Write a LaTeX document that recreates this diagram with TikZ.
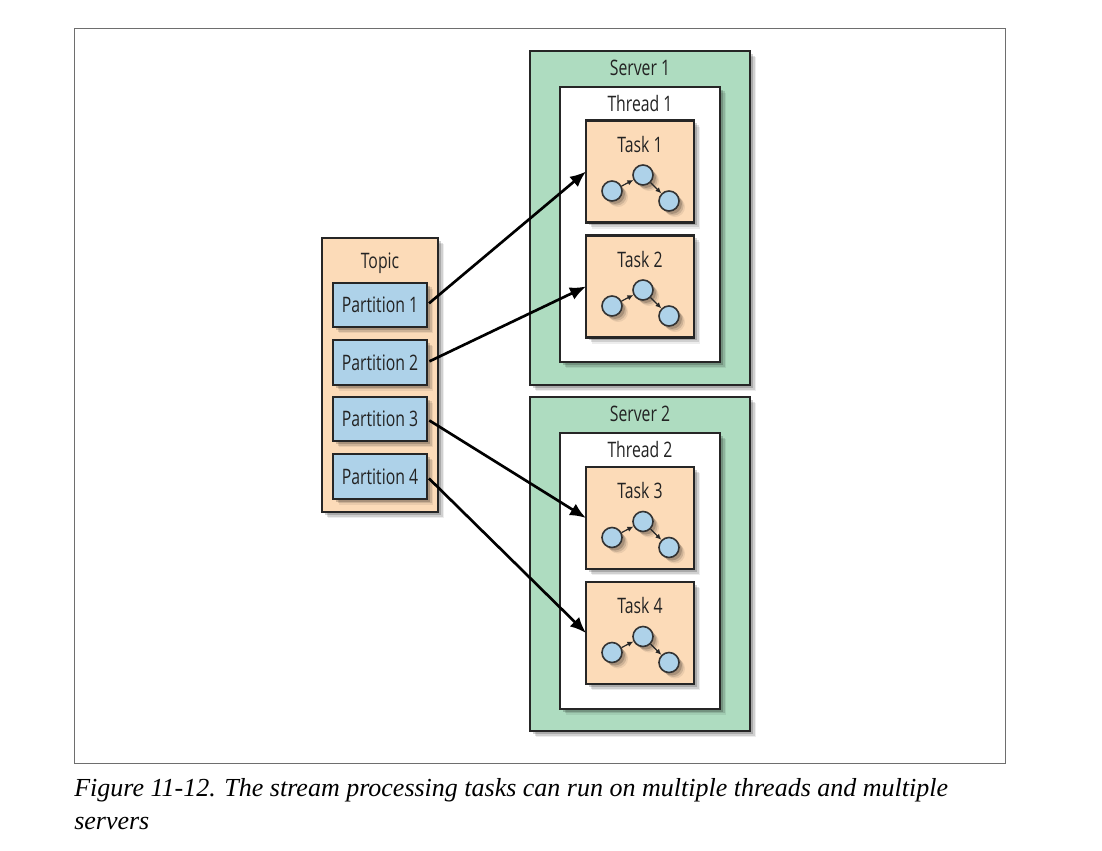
\documentclass[tikz,border=0pt]{standalone}
\usepackage{fontspec}
\setmainfont{Liberation Serif}
\newfontfamily\boxfont[FakeStretch=0.74]{Open Sans}
\usetikzlibrary{arrows.meta, positioning, calc, shadows}
\definecolor{servergreen}{RGB}{174,220,192}
\definecolor{taskorange}{RGB}{252,219,184}
\definecolor{partblue}{RGB}{174,210,233}
\definecolor{inkgray}{RGB}{35,35,35}
\definecolor{framegray}{RGB}{110,110,110}

\begin{document}
\begin{tikzpicture}[x=0.75pt, y=-0.75pt,
  softshadow/.style={general shadow={shadow xshift=4.5pt, shadow yshift=-4.5pt, fill=black, opacity=.07},
    general shadow={shadow xshift=3.4pt, shadow yshift=-3.4pt, fill=black, opacity=.12},
    general shadow={shadow xshift=2.2pt, shadow yshift=-2.2pt, fill=black, opacity=.18}},
  bx/.style={draw=black!85, line width=1.7pt, inner sep=0pt, outer sep=0pt, softshadow},
  server/.style={bx, fill=servergreen, minimum width=165pt, minimum height=250.5pt},
  thread/.style={bx, fill=white, minimum width=120pt, minimum height=206.5pt},
  task/.style={bx, fill=taskorange, minimum width=81pt, minimum height=76.5pt},
  topic/.style={bx, fill=taskorange, minimum width=87pt, minimum height=205.5pt},
  partition/.style={bx, fill=partblue, minimum width=70.5pt, minimum height=33.4pt, text=inkgray, font=\boxfont\fontsize{16}{18}\selectfont},
  lbl/.style={text=inkgray, inner sep=0pt, font=\boxfont\fontsize{16}{18}\selectfont},
  dot/.style={circle, draw=black!80, line width=1.2pt, fill=partblue, minimum size=15pt, inner sep=0pt, outer sep=.6pt, softshadow},
  link/.style={-{Latex[length=4.5pt, width=4pt]}, line width=.9pt, black!85},
  feed/.style={-{Latex[length=12pt, width=10pt]}, line width=2pt, black, shorten <=2pt}]
\useasboundingbox (0,0) rectangle (1102,850);
\node[draw=framegray, line width=.6pt, minimum width=698.25pt, minimum height=551.25pt, inner sep=0pt] (frame) at (539.5,395.5) {};

% servers and threads
\node[server] (server1) at (640,218) {};
\node[server] (server2) at (640,564) {};
\node[thread] (thread1) at (640,224.5) {};
\node[thread] (thread2) at (640,571) {};
\node[lbl] (lblserver1) at (640,67.5) {Server 1};
\node[lbl] (lblserver2) at (640,413.5) {Server 2};
\node[lbl] (lblthread1) at (640,103) {Thread 1};
\node[lbl] (lblthread2) at (640,449) {Thread 2};

% tasks with their small graphs
\foreach \t/\y in {1/171.5, 2/286.5, 3/518, 4/633} {
  \node[task] (task\t) at (640,\y) {};
  \node[lbl] (lbltask\t) at (640,\y-27.5) {Task \t};
  \node[dot] (a\t) at (612,\y+19.5) {};
  \node[dot] (b\t) at (643,\y+3.5) {};
  \node[dot] (c\t) at (669,\y+29.5) {};
  \draw[link] (a\t) -- (b\t);
  \draw[link] (b\t) -- (c\t);
}

% topic
\node[topic] (topic) at (380,375) {};
\node[lbl] (lbltopic) at (380,263) {Topic};
\foreach \p/\y in {1/305, 2/362.5, 3/419, 4/476.5} {
  \node[partition] (part\p) at (380,\y) {Partition \p};
  \draw[feed] (part\p.east) -- (task\p.west);
}

% caption
\node[anchor=base west, inner sep=0pt, font=\itshape\fontsize{19.5}{24}\selectfont] (caption1) at (74,796) {Figure 11-12. The stream processing tasks can run on multiple threads and multiple};
\node[anchor=base west, inner sep=0pt, font=\itshape\fontsize{19.5}{24}\selectfont] (caption2) at (74,829) {servers};
\end{tikzpicture}
\end{document}
